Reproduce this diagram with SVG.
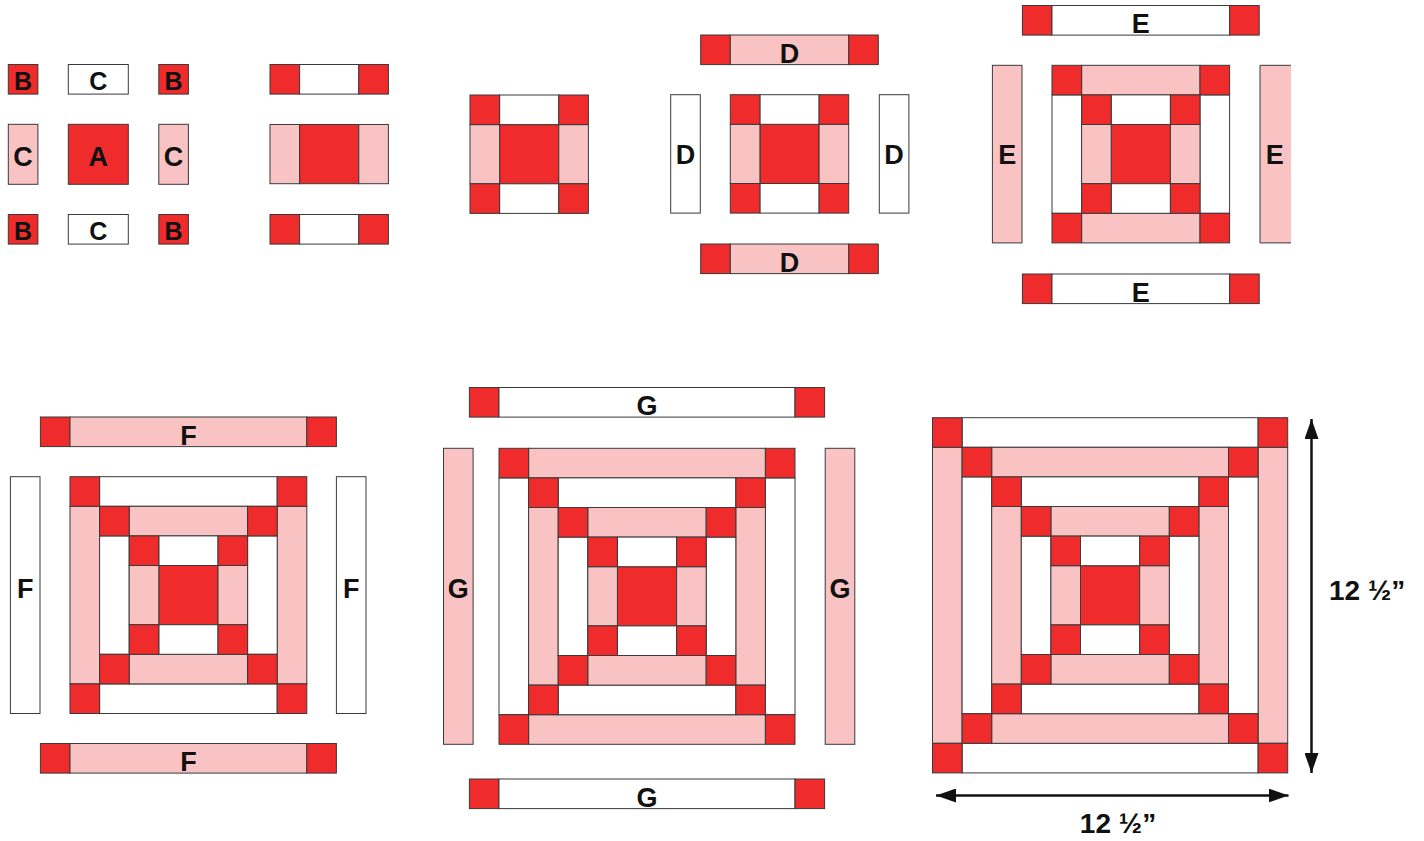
<svg xmlns="http://www.w3.org/2000/svg" xmlns:xlink="http://www.w3.org/1999/xlink" width="1424" height="841" viewBox="0 0 1424 841">
<style>
rect{stroke:#3a3a3a;stroke-width:1}
.r{fill:#EF2B2B}
.p{fill:#F9C3C3}
.w{fill:#FFFFFF}
.bg{fill:#FFFFFF;stroke:none}
.t{font-family:"Liberation Sans",Arial,sans-serif;font-weight:bold;fill:#111;text-anchor:middle}
.s{font-size:25px}
.m{font-size:27px}
.dim{font-family:"Liberation Sans",Arial,sans-serif;font-weight:bold;font-size:28px;fill:#111}
.arr{stroke:#111;stroke-width:2.5;fill:none}
</style>
<defs>
<marker id="ah" viewBox="0 0 20 14" refX="20" refY="7" markerWidth="20" markerHeight="14" markerUnits="userSpaceOnUse" orient="auto-start-reverse">
<path d="M0,0 L20,7 L0,14 z" fill="#111"/>
</marker>
<g id="np">
<rect class="r" x="29.6" y="29.6" width="59.2" height="59.2"/>
<rect class="w" x="29.6" y="0" width="59.2" height="29.6"/>
<rect class="w" x="29.6" y="88.8" width="59.2" height="29.6"/>
<rect class="p" x="0" y="29.6" width="29.6" height="59.2"/>
<rect class="p" x="88.8" y="29.6" width="29.6" height="59.2"/>
<rect class="r" x="0" y="0" width="29.6" height="29.6"/>
<rect class="r" x="88.8" y="0" width="29.6" height="29.6"/>
<rect class="r" x="0" y="88.8" width="29.6" height="29.6"/>
<rect class="r" x="88.8" y="88.8" width="29.6" height="29.6"/>
</g>
<g id="blkD">
<rect class="p" x="29.6" y="0" width="118.4" height="29.6"/>
<rect class="p" x="29.6" y="148" width="118.4" height="29.6"/>
<rect class="w" x="0" y="29.6" width="29.6" height="118.4"/>
<rect class="w" x="148" y="29.6" width="29.6" height="118.4"/>
<rect class="r" x="0" y="0" width="29.6" height="29.6"/>
<rect class="r" x="148" y="0" width="29.6" height="29.6"/>
<rect class="r" x="0" y="148" width="29.6" height="29.6"/>
<rect class="r" x="148" y="148" width="29.6" height="29.6"/>
<use xlink:href="#np" href="#np" transform="translate(29.6,29.6)"/>
</g>
<g id="blkE">
<rect class="w" x="29.6" y="0" width="177.6" height="29.6"/>
<rect class="w" x="29.6" y="207.2" width="177.6" height="29.6"/>
<rect class="p" x="0" y="29.6" width="29.6" height="177.6"/>
<rect class="p" x="207.2" y="29.6" width="29.6" height="177.6"/>
<rect class="r" x="0" y="0" width="29.6" height="29.6"/>
<rect class="r" x="207.2" y="0" width="29.6" height="29.6"/>
<rect class="r" x="0" y="207.2" width="29.6" height="29.6"/>
<rect class="r" x="207.2" y="207.2" width="29.6" height="29.6"/>
<use xlink:href="#blkD" href="#blkD" transform="translate(29.6,29.6)"/>
</g>
<g id="blkF">
<rect class="p" x="29.6" y="0" width="236.8" height="29.6"/>
<rect class="p" x="29.6" y="266.4" width="236.8" height="29.6"/>
<rect class="w" x="0" y="29.6" width="29.6" height="236.8"/>
<rect class="w" x="266.4" y="29.6" width="29.6" height="236.8"/>
<rect class="r" x="0" y="0" width="29.6" height="29.6"/>
<rect class="r" x="266.4" y="0" width="29.6" height="29.6"/>
<rect class="r" x="0" y="266.4" width="29.6" height="29.6"/>
<rect class="r" x="266.4" y="266.4" width="29.6" height="29.6"/>
<use xlink:href="#blkE" href="#blkE" transform="translate(29.6,29.6)"/>
</g>
<g id="blkG">
<rect class="w" x="29.6" y="0" width="296" height="29.6"/>
<rect class="w" x="29.6" y="325.6" width="296" height="29.6"/>
<rect class="p" x="0" y="29.6" width="29.6" height="296"/>
<rect class="p" x="325.6" y="29.6" width="29.6" height="296"/>
<rect class="r" x="0" y="0" width="29.6" height="29.6"/>
<rect class="r" x="325.6" y="0" width="29.6" height="29.6"/>
<rect class="r" x="0" y="325.6" width="29.6" height="29.6"/>
<rect class="r" x="325.6" y="325.6" width="29.6" height="29.6"/>
<use xlink:href="#blkF" href="#blkF" transform="translate(29.6,29.6)"/>
</g>
</defs>
<rect class="bg" x="0" y="0" width="1424" height="841"/>

<g id="pieces">
<rect class="r" x="8.3" y="64.5" width="29.6" height="29.6"/>
<rect class="w" x="68.3" y="64.5" width="60" height="29.6"/>
<rect class="r" x="158.8" y="64.5" width="29.6" height="29.6"/>
<rect class="p" x="8.3" y="124.3" width="29.6" height="60"/>
<rect class="r" x="68.3" y="124.3" width="60" height="60"/>
<rect class="p" x="158.8" y="124.3" width="29.6" height="60"/>
<rect class="r" x="8.3" y="214.5" width="29.6" height="29.6"/>
<rect class="w" x="68.3" y="214.5" width="60" height="29.6"/>
<rect class="r" x="158.8" y="214.5" width="29.6" height="29.6"/>
<text class="t s" x="23.1" y="89.5">B</text>
<text class="t s" x="98.3" y="89.5">C</text>
<text class="t s" x="173.6" y="89.5">B</text>
<text class="t m" x="23.1" y="166">C</text>
<text class="t m" x="98.3" y="166">A</text>
<text class="t m" x="173.6" y="166">C</text>
<text class="t s" x="23.1" y="239.5">B</text>
<text class="t s" x="98.3" y="239.5">C</text>
<text class="t s" x="173.6" y="239.5">B</text>
</g>

<g id="rows">
<rect class="r" x="270" y="64.5" width="29.6" height="29.6"/>
<rect class="w" x="299.6" y="64.5" width="59.2" height="29.6"/>
<rect class="r" x="358.8" y="64.5" width="29.6" height="29.6"/>
<rect class="p" x="270" y="124.5" width="29.6" height="59.2"/>
<rect class="r" x="299.6" y="124.5" width="59.2" height="59.2"/>
<rect class="p" x="358.8" y="124.5" width="29.6" height="59.2"/>
<rect class="r" x="270" y="214.5" width="29.6" height="29.6"/>
<rect class="w" x="299.6" y="214.5" width="59.2" height="29.6"/>
<rect class="r" x="358.8" y="214.5" width="29.6" height="29.6"/>
</g>

<g id="ninepatch">
<use xlink:href="#np" href="#np" transform="translate(470,95)"/>
</g>

<g id="stageD">
<rect class="r" x="700.7" y="35" width="29.6" height="29.6"/>
<rect class="p" x="730.3" y="35" width="118.4" height="29.6"/>
<rect class="r" x="848.7" y="35" width="29.6" height="29.6"/>
<text class="t m" x="789.5" y="63">D</text>
<rect class="w" x="670.7" y="94.7" width="29.6" height="118.4"/>
<text class="t m" x="685.5" y="163.5">D</text>
<use xlink:href="#np" href="#np" transform="translate(730.3,94.7)"/>
<rect class="w" x="879.3" y="94.7" width="29.6" height="118.4"/>
<text class="t m" x="894.1" y="163.5">D</text>
<rect class="r" x="700.7" y="244" width="29.6" height="29.6"/>
<rect class="p" x="730.3" y="244" width="118.4" height="29.6"/>
<rect class="r" x="848.7" y="244" width="29.6" height="29.6"/>
<text class="t m" x="789.5" y="272">D</text>
</g>

<g id="stageE">
<rect class="r" x="1022.4" y="5.5" width="29.6" height="29.6"/>
<rect class="w" x="1052" y="5.5" width="177.6" height="29.6"/>
<rect class="r" x="1229.6" y="5.5" width="29.6" height="29.6"/>
<text class="t m" x="1140.8" y="33">E</text>
<rect class="p" x="992.4" y="65.3" width="29.6" height="177.6"/>
<text class="t m" x="1007.2" y="164">E</text>
<use xlink:href="#blkD" href="#blkD" transform="translate(1052,65.3)"/>
<rect class="p" x="1260" y="65.3" width="31" height="177.6" style="stroke:none"/>
<path d="M1291,65.3 H1260 V242.9 H1291" fill="none" stroke="#3a3a3a" stroke-width="1"/>
<text class="t m" x="1274.8" y="164">E</text>
<rect class="r" x="1022.4" y="274" width="29.6" height="29.6"/>
<rect class="w" x="1052" y="274" width="177.6" height="29.6"/>
<rect class="r" x="1229.6" y="274" width="29.6" height="29.6"/>
<text class="t m" x="1140.8" y="302">E</text>
</g>

<g id="stageF">
<rect class="r" x="40.4" y="417" width="29.6" height="29.6"/>
<rect class="p" x="70" y="417" width="236.8" height="29.6"/>
<rect class="r" x="306.8" y="417" width="29.6" height="29.6"/>
<text class="t m" x="188.4" y="445">F</text>
<rect class="w" x="10.4" y="476.7" width="29.6" height="236.8"/>
<text class="t m" x="25.2" y="598">F</text>
<use xlink:href="#blkE" href="#blkE" transform="translate(70,476.7)"/>
<rect class="w" x="336.4" y="476.7" width="29.6" height="236.8"/>
<text class="t m" x="351.2" y="598">F</text>
<rect class="r" x="40.4" y="743.5" width="29.6" height="29.6"/>
<rect class="p" x="70" y="743.5" width="236.8" height="29.6"/>
<rect class="r" x="306.8" y="743.5" width="29.6" height="29.6"/>
<text class="t m" x="188.4" y="771">F</text>
</g>

<g id="stageG">
<rect class="r" x="469.4" y="387.5" width="29.6" height="29.6"/>
<rect class="w" x="499" y="387.5" width="296" height="29.6"/>
<rect class="r" x="795" y="387.5" width="29.6" height="29.6"/>
<text class="t m" x="647" y="415">G</text>
<rect class="p" x="443.5" y="448.3" width="29.6" height="296"/>
<text class="t m" x="458.3" y="598">G</text>
<use xlink:href="#blkF" href="#blkF" transform="translate(499,448.3)"/>
<rect class="p" x="825.2" y="448.3" width="29.6" height="296"/>
<text class="t m" x="840" y="598">G</text>
<rect class="r" x="469.4" y="779" width="29.6" height="29.6"/>
<rect class="w" x="499" y="779" width="296" height="29.6"/>
<rect class="r" x="795" y="779" width="29.6" height="29.6"/>
<text class="t m" x="647" y="806.5">G</text>
</g>

<g id="finalBlock">
<use xlink:href="#blkG" href="#blkG" transform="translate(932.5,417.7)"/>
<text class="dim" x="1329" y="600">12 ½”</text>
<text class="dim" x="1118" y="833" text-anchor="middle">12 ½”</text>
</g>

<g id="connectors">
<line class="arr" x1="1311.5" y1="419" x2="1311.5" y2="773" marker-start="url(#ah)" marker-end="url(#ah)"/>
<line class="arr" x1="936" y1="795.5" x2="1288.5" y2="795.5" marker-start="url(#ah)" marker-end="url(#ah)"/>
</g>
</svg>
